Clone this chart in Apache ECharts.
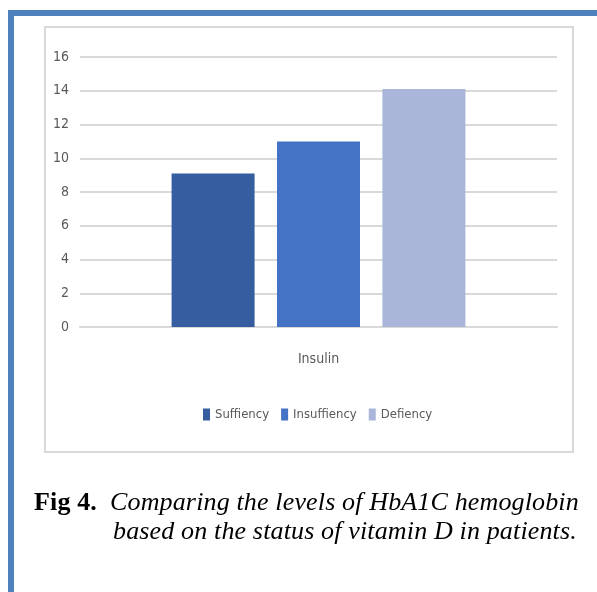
<!DOCTYPE html>
<html>
<head>
<meta charset="utf-8">
<script src="https://cdn.jsdelivr.net/npm/echarts@6/dist/echarts.min.js"></script>
<style>
  html, body { margin: 0; padding: 0; background: #fff; }
  #page { position: relative; width: 597px; height: 592px; overflow: hidden; }
  .blue { position: absolute; background: #4f81bd; }
  #box { position: absolute; left: 44px; top: 26px; width: 530px; height: 427px;
         box-sizing: border-box; border: 2px solid #d9d9d9; }
  #chart { position: absolute; left: 0; top: 0; width: 597px; height: 592px; }
  .cap { position: absolute; font-family: "Liberation Serif", "Times New Roman", serif;
         font-size: 26px; line-height: 30px; letter-spacing: 0.15px; white-space: nowrap; color: #000; }
</style>
</head>
<body>
<div id="page">
  <div class="blue" style="left:8px;top:10px;width:589px;height:6px"></div>
  <div class="blue" style="left:8px;top:10px;width:6px;height:582px"></div>
  <div id="box"></div>
  <div id="chart"></div>
  <div class="cap" style="left:34px;top:487px"><b>Fig 4.</b></div>
  <div class="cap" style="left:110px;top:487px"><i>Comparing the levels of HbA1C hemoglobin</i></div>
  <div class="cap" style="left:113px;top:516px"><i>based on the status of vitamin D in patients.</i></div>
</div>
<script>
var categories = ['Insulin'];
var suffiency = [9.1];
var insuffiency = [11.0];
var defiency = [14.1];
var yTicks = { min: 0, max: 16, step: 2 };

var font = '"Liberation Sans Narrow", "DejaVu Sans Condensed", sans-serif';
var chart = echarts.init(document.getElementById('chart'));

var option = {
  animation: false,
  grid: { left: 80, right: 40, top: 57, bottom: 265 },
  legend: {
    left: 198, top: 403,
    itemWidth: 7, itemHeight: 12, itemGap: 12,
    icon: 'rect',
    textStyle: { color: '#595959', fontSize: 13, fontFamily: font },
    data: ['Suffiency', 'Insuffiency', 'Defiency']
  },
  xAxis: {
    type: 'category',
    data: categories,
    axisLine: { lineStyle: { color: '#d9d9d9', width: 2 } },
    axisTick: { show: false },
    axisLabel: { color: '#595959', fontSize: 14, fontFamily: font, margin: 25 }
  },
  yAxis: {
    type: 'value',
    min: yTicks.min, max: yTicks.max, interval: yTicks.step,
    axisLine: { show: false },
    axisTick: { show: false },
    splitLine: { lineStyle: { color: '#d9d9d9', width: 2 } },
    axisLabel: { color: '#595959', fontSize: 14, fontFamily: font, margin: 11 }
  },
  series: [
    { name: 'Suffiency', type: 'bar', data: suffiency, barWidth: 83, barGap: '27%',
      itemStyle: { color: '#355da0' } },
    { name: 'Insuffiency', type: 'bar', data: insuffiency, barWidth: 83, barGap: '27%',
      itemStyle: { color: '#4472c4' } },
    { name: 'Defiency', type: 'bar', data: defiency, barWidth: 83, barGap: '27%',
      itemStyle: { color: '#a9b6da' } }
  ]
};

chart.setOption(option);
</script>
</body>
</html>
